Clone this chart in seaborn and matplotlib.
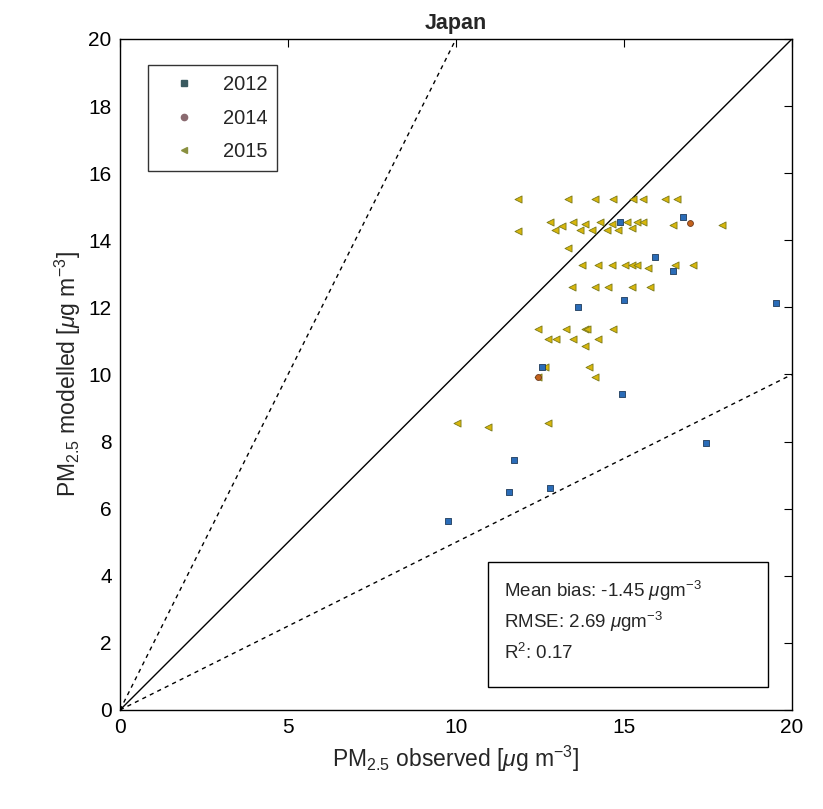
import matplotlib
matplotlib.use("Agg")
import matplotlib.pyplot as plt
import seaborn as sns
import pandas as pd
from matplotlib.lines import Line2D
from matplotlib.patches import Rectangle

sns.set_theme(style="white")
plt.rcParams["font.family"] = ["Liberation Sans", "DejaVu Sans"]
plt.rcParams["mathtext.fontset"] = "custom"
plt.rcParams["mathtext.rm"] = "Liberation Sans"
plt.rcParams["mathtext.it"] = "Liberation Sans:italic"

# Observed vs modelled PM2.5 (ug m-3) per monitoring year
obs_2012 = [9.76, 11.58, 11.73, 12.80, 14.94, 14.88, 17.44, 19.52, 13.63, 15.00,
            12.56, 15.92, 16.46, 16.76, 14.88]
mod_2012 = [5.63, 6.50, 7.45, 6.62, 9.42, 4.32, 7.96, 12.13, 12.01, 12.22,
            10.22, 13.50, 13.08, 14.69, 14.55]

obs_2014 = [16.96, 12.44]
mod_2014 = [14.52, 9.93]

obs_2015 = [11.85, 13.33, 14.14, 14.67, 15.27, 15.57, 16.22, 16.58,
            11.85, 12.80, 12.95, 13.15, 13.48, 13.69, 13.84, 14.05, 14.29, 14.49,
            14.64, 14.82, 15.09, 15.24, 15.39, 15.57, 16.46, 17.92,
            13.33,
            13.75, 14.23, 14.64, 15.03, 15.24, 15.39, 15.71, 16.52, 17.05,
            13.45, 14.14, 14.52, 15.24, 15.77,
            12.44, 13.27, 13.84, 13.90, 14.67, 12.74, 12.98, 13.48, 14.23, 13.84,
            12.65, 12.44, 13.96, 14.14, 12.74, 10.95, 10.03]
mod_2015 = [15.23, 15.23, 15.23, 15.23, 15.23, 15.23, 15.23, 15.23,
            14.28, 14.55, 14.31, 14.43, 14.55, 14.31, 14.49, 14.31, 14.55, 14.31,
            14.49, 14.31, 14.55, 14.37, 14.55, 14.55, 14.46, 14.46,
            13.77,
            13.26, 13.26, 13.26, 13.26, 13.26, 13.26, 13.17, 13.26, 13.26,
            12.61, 12.61, 12.61, 12.61, 12.61,
            11.36, 11.36, 11.36, 11.36, 11.36, 11.06, 11.06, 11.06, 11.06, 10.85,
            10.22, 9.93, 10.22, 9.93, 8.55, 8.43, 8.55]

years = ["2012", "2014", "2015"]
colors = {"2012": "#2a6cb8", "2014": "#c4621c", "2015": "#d8b60c"}
edges = {"2012": "#1e3a5a", "2014": "#6a3a20", "2015": "#7a7a1a"}
markers = {"2012": "s", "2014": "o", "2015": "<"}
sizes = {"2012": 14, "2014": 18, "2015": 26}

df = pd.concat([
    pd.DataFrame({"obs": obs_2012, "mod": mod_2012, "year": "2012"}),
    pd.DataFrame({"obs": obs_2014, "mod": mod_2014, "year": "2014"}),
    pd.DataFrame({"obs": obs_2015, "mod": mod_2015, "year": "2015"}),
], ignore_index=True)

fig = plt.figure(figsize=(8.23, 8.09), dpi=100)
ax = fig.add_axes([0.1458, 0.1224, 0.8165, 0.8294])

# reference lines: 1:1 and factor-of-two envelope
ax.plot([0, 20], [0, 20], color="black", lw=1.0, zorder=1)
ax.plot([0, 10], [0, 20], color="black", lw=1.0, ls=(0, (3, 3)), zorder=1)
ax.plot([0, 20], [0, 10], color="black", lw=1.0, ls=(0, (3, 3)), zorder=1)

for yr in ["2015", "2014", "2012"]:
    sub = df[df["year"] == yr]
    sns.scatterplot(data=sub, x="obs", y="mod", ax=ax, marker=markers[yr],
                    color=colors[yr], edgecolor=edges[yr], linewidth=0.6,
                    s=sizes[yr], legend=False, zorder=3)

ax.set_xlim(0, 20)
ax.set_ylim(0, 20)
ax.set_xticks([0, 5, 10, 15, 20])
ax.set_yticks(range(0, 21, 2))
ax.tick_params(direction="in", length=6, width=0.8, labelsize=15,
               top=True, right=True, colors="black", pad=6)
for sp in ax.spines.values():
    sp.set_color("black")
    sp.set_linewidth(1.0)

ax.set_xlabel(r"PM$_{2.5}$ observed [$\mu$g m$^{-3}$]", fontsize=16.5, labelpad=5)
ax.set_ylabel(r"PM$_{2.5}$ modelled [$\mu$g m$^{-3}$]", fontsize=16.5, labelpad=4)
ax.set_title("Japan", fontsize=15.5, fontweight="bold", pad=7)

handles = [Line2D([], [], ls="none", marker=markers[y], markersize=4.5,
                  markerfacecolor=c, markeredgecolor=c)
           for y, c in zip(years, ["#3a5a60", "#8a6a70", "#8a9040"])]
leg = ax.legend(handles, years, loc="upper left", bbox_to_anchor=(0.042, 0.961),
                fontsize=14.5, frameon=True, fancybox=False, edgecolor="black",
                borderpad=0.5, labelspacing=0.72, handletextpad=0.6,
                borderaxespad=0.0, handlelength=2.6)
leg.get_frame().set_linewidth(1.0)

# statistics box
ax.add_patch(Rectangle((0.548, 0.034), 0.416, 0.187, transform=ax.transAxes,
                       facecolor="white", edgecolor="black", lw=1.0, zorder=4))
lines = ["Mean bias: -1.45 $\\mu$gm$^{-3}$",
         "RMSE: 2.69 $\\mu$gm$^{-3}$",
         "R$^{2}$: 0.17"]
for i, t in enumerate(lines):
    ax.text(0.571, 0.177 - i * 0.046, t, transform=ax.transAxes, fontsize=13.5,
            va="center", ha="left", zorder=5)

fig.savefig("out.png", dpi=100, facecolor="white")
